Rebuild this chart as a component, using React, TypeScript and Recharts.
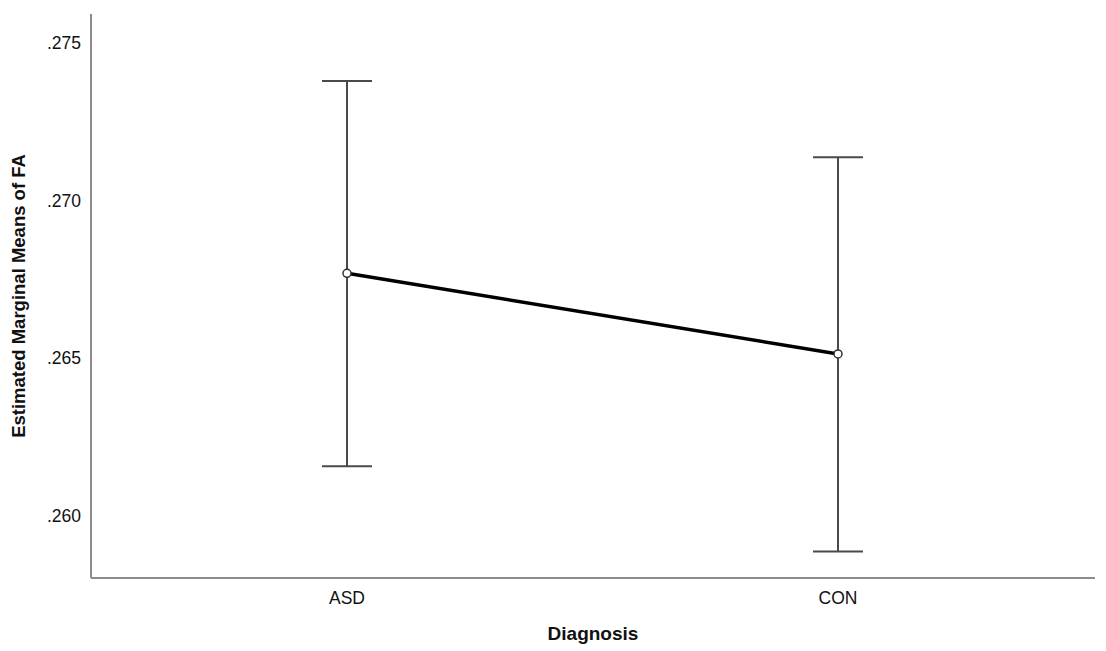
import React from "react"
import { LineChart, Line, XAxis, YAxis, ErrorBar } from "recharts"

const groups = ["ASD", "CON"]
const means = [0.26769, 0.26513]
const ciLower = [0.26157, 0.25886]
const ciUpper = [0.27379, 0.27137]
const yTicks = [0.26, 0.265, 0.27, 0.275]

const data = groups.map((g, i) => ({
  group: g,
  mean: means[i],
  ci: [means[i] - ciLower[i], ciUpper[i] - means[i]],
}))

const fmt = (v: number) => v.toFixed(3).replace(/^0/, "")

const font = "'Liberation Sans', Arial, sans-serif"

export default function App() {
  return (
    <div style={{ position: "absolute", left: 0, top: 0, background: "#fff" }}>
      <LineChart
        width={1106}
        height={651}
        data={data}
        margin={{ top: 14, right: 11, bottom: 0, left: 0 }}
        style={{ fontFamily: font }}
      >
        <XAxis
          dataKey="group"
          height={73}
          padding={{ left: 256, right: 257 }}
          tickLine={false}
          tickMargin={8}
          axisLine={{ stroke: "#8c8c8c", strokeWidth: 2 }}
          tick={{ fill: "#111", fontSize: 17.5 }}
          label={{
            value: "Diagnosis",
            position: "insideBottom",
            offset: 11,
            style: { fill: "#111", fontSize: 19, fontWeight: "bold" },
          }}
        />
        <YAxis
          width={91}
          domain={[0.25802, 0.27592]}
          ticks={yTicks}
          tickFormatter={fmt}
          tickLine={false}
          tickMargin={4}
          axisLine={{ stroke: "#8c8c8c", strokeWidth: 2 }}
          tick={{ fill: "#111", fontSize: 17.5 }}
          allowDataOverflow
          label={{
            value: "Estimated Marginal Means of FA",
            angle: -90,
            position: "insideLeft",
            offset: 18,
            style: { fill: "#111", fontSize: 18.5, fontWeight: "bold", textAnchor: "middle" },
          }}
        />
        <Line
          dataKey="mean"
          stroke="#000"
          strokeWidth={3.5}
          isAnimationActive={false}
          dot={{ r: 4, fill: "#fff", stroke: "#333", strokeWidth: 1.5 }}
          activeDot={false}
        >
          <ErrorBar dataKey="ci" width={25} stroke="#4a4a4a" strokeWidth={2} direction="y" />
        </Line>
      </LineChart>
    </div>
  )
}
